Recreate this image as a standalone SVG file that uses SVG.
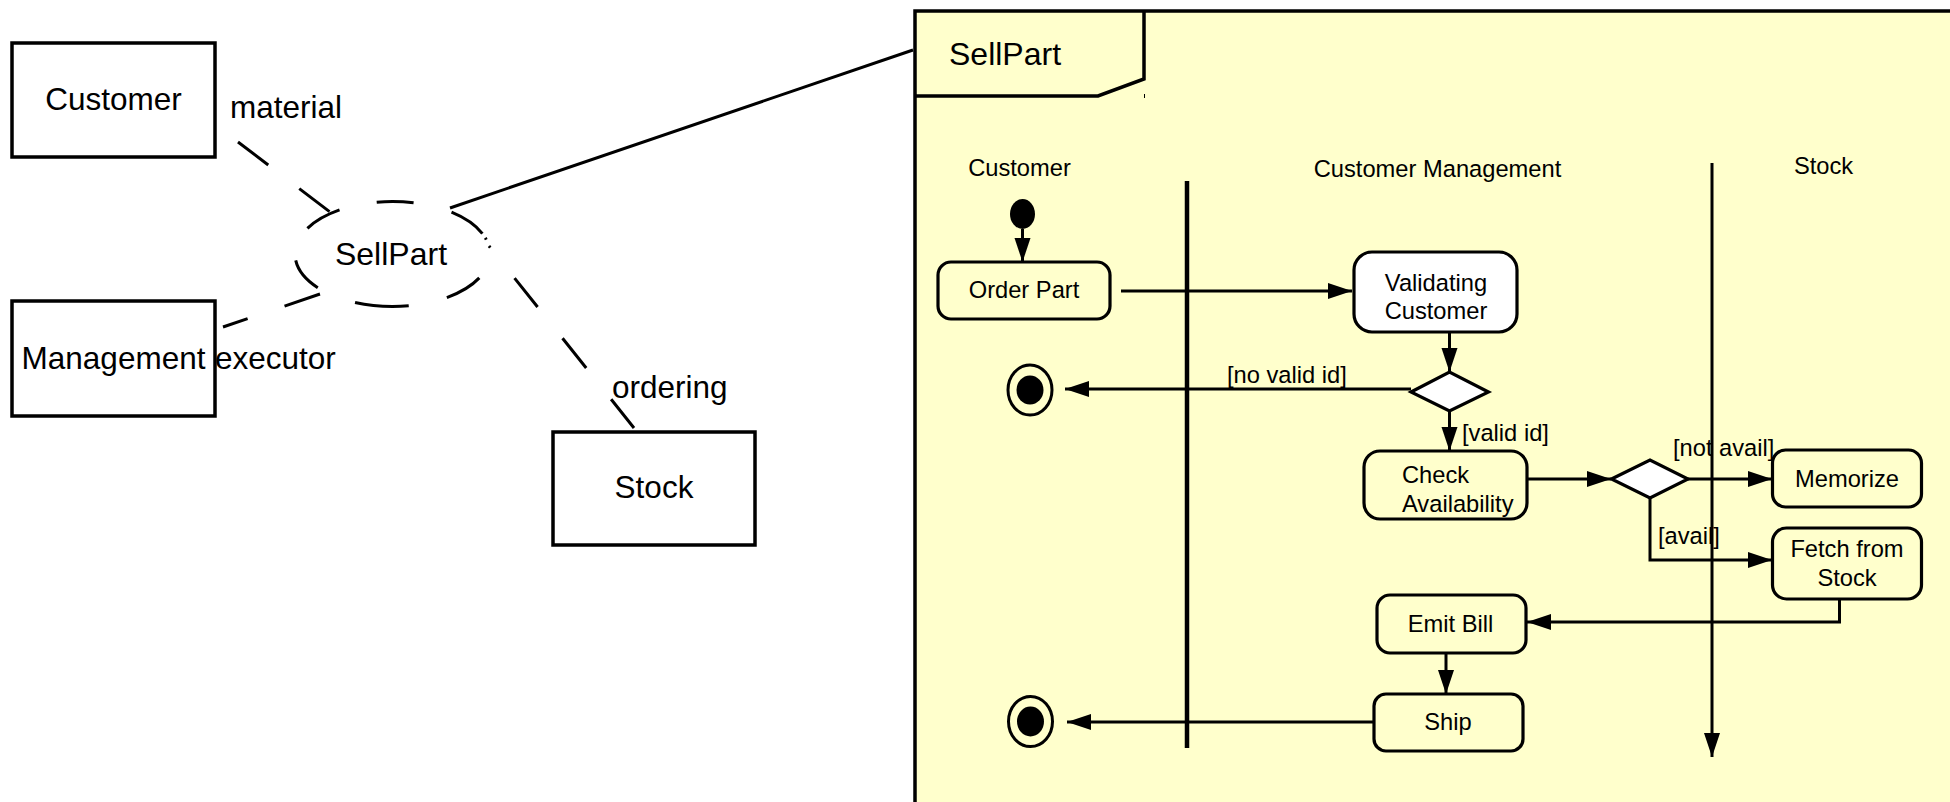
<svg xmlns="http://www.w3.org/2000/svg" width="1950" height="802" viewBox="0 0 1950 802">
<style>
text{font-family:"Liberation Sans",Arial,sans-serif;fill:#000}
.big{font-size:31.5px}
.sm{font-size:23.7px}
.mid{text-anchor:middle}
.box{fill:#fff;stroke:#000;stroke-width:3.5}
.act{fill:#FFFFCC;stroke:#000;stroke-width:3.2}
.wht{fill:#fff;stroke:#000;stroke-width:3.2}
.ln{fill:none;stroke:#000;stroke-width:3}
.dash{fill:none;stroke:#000;stroke-width:3}
</style>
<defs>
<marker id="ah" markerUnits="userSpaceOnUse" markerWidth="24" markerHeight="18" viewBox="0 0 24 18" refX="24" refY="9" orient="auto">
<path d="M0,1 L24,9 L0,17 z" fill="#000"/>
</marker>
</defs>
<rect width="1950" height="802" fill="#fff"/>

<g id="frame">
<rect x="915" y="11" width="1045" height="800" fill="#FFFFCC"/>
<path d="M1960,11 H915 V810" fill="none" stroke="#000" stroke-width="3.5"/>
<path d="M915,96 H1098 L1144,79 V11" fill="none" stroke="#000" stroke-width="3.5"/>
<line x1="1144.5" y1="94" x2="1144.5" y2="98" stroke="#000" stroke-width="1"/>
<text class="big" x="949" y="65" style="font-size:32px">SellPart</text>
</g>

<g id="lanes">
<text class="sm mid" x="1019.5" y="176">Customer</text>
<text class="sm mid" x="1437.5" y="177">Customer Management</text>
<text class="sm mid" x="1823.5" y="174">Stock</text>
<line x1="1187" y1="181" x2="1187" y2="748" stroke="#000" stroke-width="4.5"/>
<line x1="1712" y1="163" x2="1712" y2="757" class="ln" marker-end="url(#ah)"/>
</g>

<g id="connectors">
<line x1="238" y1="142" x2="330" y2="212" class="dash" stroke-dasharray="38 39"/>
<line x1="223" y1="327" x2="320" y2="294" class="dash" stroke-dasharray="26 39 38 10"/>
<line x1="489" y1="246" x2="634" y2="428" class="dash" stroke-dasharray="2 39 37 40 38 40 37 10"/>
<line x1="450" y1="208" x2="913" y2="50" class="ln"/>
<line x1="1022.5" y1="229" x2="1022.5" y2="262" class="ln" marker-end="url(#ah)"/>
<line x1="1121" y1="291" x2="1352" y2="291" class="ln" marker-end="url(#ah)"/>
<line x1="1449.5" y1="332" x2="1449.5" y2="372" class="ln" marker-end="url(#ah)"/>
<line x1="1411" y1="389" x2="1065" y2="389" class="ln" marker-end="url(#ah)"/>
<line x1="1449.5" y1="411" x2="1449.5" y2="451" class="ln" marker-end="url(#ah)"/>
<line x1="1527" y1="479" x2="1611" y2="479" class="ln" marker-end="url(#ah)"/>
<line x1="1688" y1="479" x2="1772" y2="479" class="ln" marker-end="url(#ah)"/>
<polyline points="1650,498 1650,560 1772,560" class="ln" marker-end="url(#ah)"/>
<polyline points="1839.5,586 1839.5,622 1527,622" class="ln" marker-end="url(#ah)"/>
<line x1="1446" y1="653" x2="1446" y2="694" class="ln" marker-end="url(#ah)"/>
<line x1="1374" y1="722" x2="1067" y2="722" class="ln" marker-end="url(#ah)"/>
<text class="sm" x="1227" y="383">[no valid id]</text>
<text class="sm" x="1462" y="441">[valid id]</text>
<text class="sm" x="1673" y="456">[not avail]</text>
<text class="sm" x="1658" y="544">[avail]</text>
</g>

<g id="customer">
<rect x="12" y="43" width="203" height="114" class="box"/>
<text class="big mid" x="113.5" y="110">Customer</text>
</g>
<g id="material-label"><text class="big" x="230" y="118">material</text></g>
<g id="management">
<rect x="12" y="301" width="203" height="115" class="box"/>
<text class="big mid" x="113.5" y="369">Management</text>
</g>
<g id="executor-label"><text class="big" x="215" y="369">executor</text></g>
<g id="usecase">
<ellipse cx="392.5" cy="254" rx="97.5" ry="52.5" fill="none" stroke="#000" stroke-width="3" stroke-dasharray="0 27 38 39 54 40 36 36 37 38 37 39 38 5 2 13"/>
<text class="big mid" x="391" y="265" style="font-size:32px">SellPart</text>
</g>
<g id="ordering-label"><text class="big" x="612" y="398">ordering</text></g>
<g id="stock">
<rect x="553" y="432" width="202" height="113" class="box"/>
<text class="big mid" x="654" y="498">Stock</text>
</g>

<g id="initial">
<ellipse cx="1022.5" cy="214" rx="12.5" ry="15" fill="#000"/>
</g>
<g id="order-part">
<rect x="938" y="262" width="172" height="57" rx="13" class="act"/>
<text class="sm mid" x="1024" y="298">Order Part</text>
</g>
<g id="validating">
<rect x="1354" y="252" width="163" height="80" rx="18" class="wht"/>
<text class="sm mid" x="1436" y="291">Validating</text>
<text class="sm mid" x="1436" y="319">Customer</text>
</g>
<g id="decision1">
<polygon points="1411,392 1449.5,372 1488.5,392 1449.5,411" class="wht"/>
</g>
<g id="final1">
<ellipse cx="1030" cy="390" rx="22" ry="25" fill="#FFFFCC" stroke="#000" stroke-width="3"/>
<ellipse cx="1030" cy="390" rx="13.5" ry="14.5" fill="#000"/>
</g>
<g id="check">
<rect x="1364" y="451" width="163" height="68" rx="16" class="act"/>
<text class="sm" x="1402" y="483">Check</text>
<text class="sm" x="1402" y="512">Availability</text>
</g>
<g id="decision2">
<polygon points="1611.5,479 1650,460 1688,479 1650,498" class="wht"/>
</g>
<g id="memorize">
<rect x="1772.5" y="450" width="149" height="57" rx="13" class="act"/>
<text class="sm mid" x="1847" y="487">Memorize</text>
</g>
<g id="fetch">
<rect x="1772.5" y="528" width="149" height="71" rx="14" class="act"/>
<text class="sm mid" x="1847" y="557">Fetch from</text>
<text class="sm mid" x="1847" y="586">Stock</text>
</g>
<g id="emit-bill">
<rect x="1377" y="595" width="149" height="58" rx="13" class="act"/>
<text class="sm mid" x="1450.5" y="632">Emit Bill</text>
</g>
<g id="ship">
<rect x="1374" y="694" width="149" height="57" rx="12" class="act"/>
<text class="sm mid" x="1448" y="730">Ship</text>
</g>
<g id="final2">
<ellipse cx="1030.5" cy="721.5" rx="22" ry="25" fill="#FFFFCC" stroke="#000" stroke-width="3"/>
<ellipse cx="1030.5" cy="721.5" rx="13.5" ry="15" fill="#000"/>
</g>
</svg>
